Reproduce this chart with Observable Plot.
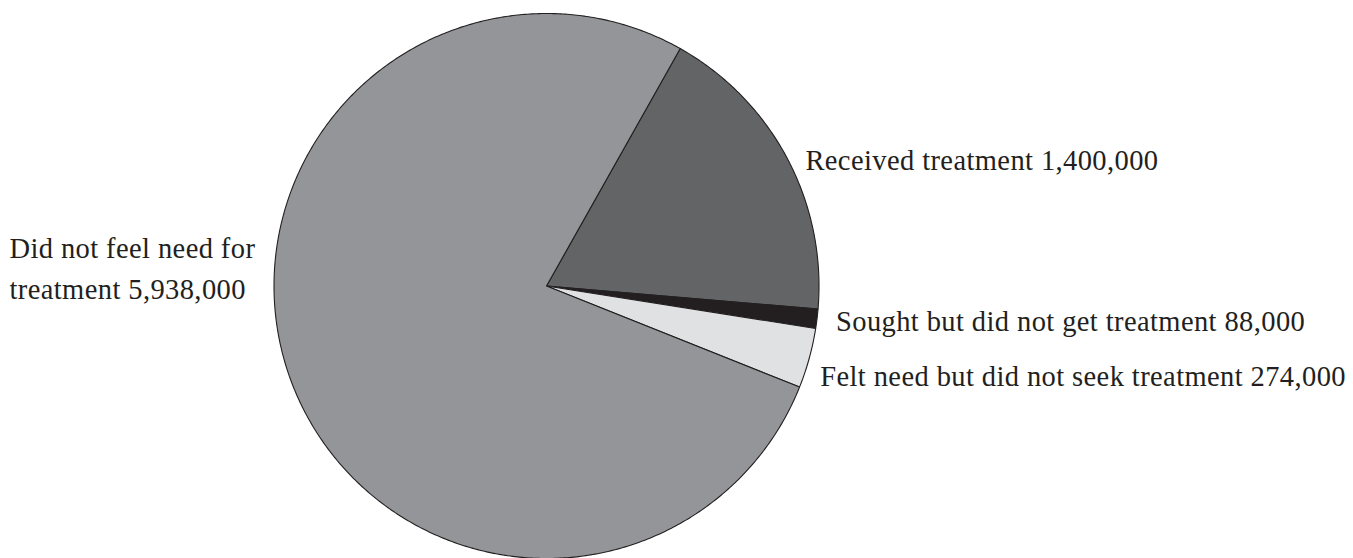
<!DOCTYPE html>
<html>
<head>
<meta charset="utf-8">
<script src="https://cdn.jsdelivr.net/npm/d3@7"></script>
<script src="https://cdn.jsdelivr.net/npm/@observablehq/plot@0.6"></script>
<style>
  html, body { margin: 0; padding: 0; background: #fff; }
  #chart svg { display: block; }
  #chart svg text { letter-spacing: 0.4px; }
</style>
</head>
<body>
<div id="chart"></div>
<script>
// ---- data ----
const categories = [
  "Received treatment",
  "Sought but did not get treatment",
  "Felt need but did not seek treatment",
  "Did not feel need for treatment"
];
const values = [1400000, 88000, 274000, 5938000];
const labels = [
  "Received treatment 1,400,000",
  "Sought but did not get treatment 88,000",
  "Felt need but did not seek treatment 274,000",
  "Did not feel need for\ntreatment 5,938,000"
];
const colors = ["#636466", "#231f20", "#e0e1e3", "#939598"];

// ---- layout / style (not data) ----
const W = 1353, H = 558;
const cx = 546, cy = 285.5, R = 272.5;
const startDeg = 29.4;
const labelOffsets = [
  {dx: 18, dy: -2},
  {dx: 19, dy: -1},
  {dx: 11, dy: 15},
  {dx: -280, dy: -111}
];

const arcs = d3.pie().sort(null)
  .startAngle(startDeg * Math.PI / 180)
  .endAngle(startDeg * Math.PI / 180 + 2 * Math.PI)(values);

const poly = [];
arcs.forEach((a, i) => {
  const cat = categories[i];
  poly.push({cat, x: 0, y: 0});
  const n = Math.max(2, Math.ceil((a.endAngle - a.startAngle) / (Math.PI / 360)));
  for (let k = 0; k <= n; k++) {
    const t = a.startAngle + (a.endAngle - a.startAngle) * k / n;
    poly.push({cat, x: Math.sin(t), y: Math.cos(t)});
  }
  poly.push({cat, x: 0, y: 0});
});

const labelData = arcs.map((a, i) => {
  const m = (a.startAngle + a.endAngle) / 2;
  return {cat: categories[i], label: labels[i], x: Math.sin(m), y: Math.cos(m), ...labelOffsets[i]};
});

const chart = Plot.plot({
  width: W,
  height: H,
  marginLeft: cx - R,
  marginRight: W - (cx + R),
  marginTop: cy - R,
  marginBottom: H - (cy + R),
  x: {domain: [-1, 1], axis: null},
  y: {domain: [-1, 1], axis: null},
  color: {domain: categories, range: colors},
  style: {fontFamily: "'Liberation Serif', serif", background: "#fff", overflow: "visible"},
  marks: [
    Plot.line(poly, {x: "x", y: "y", z: "cat", fill: "cat", stroke: "#231f20", strokeWidth: 1.1, strokeLinejoin: "round", curve: "linear"}),
    ...labelData.map(d => Plot.text([d], {
      x: "x", y: "y", text: "label",
      dx: d.dx, dy: d.dy, textAnchor: "start",
      lineAnchor: "middle", lineHeight: 1.44,
      fontSize: 28.5, fill: "#231f20"
    }))
  ]
});
document.getElementById("chart").appendChild(chart);
</script>
</body>
</html>
